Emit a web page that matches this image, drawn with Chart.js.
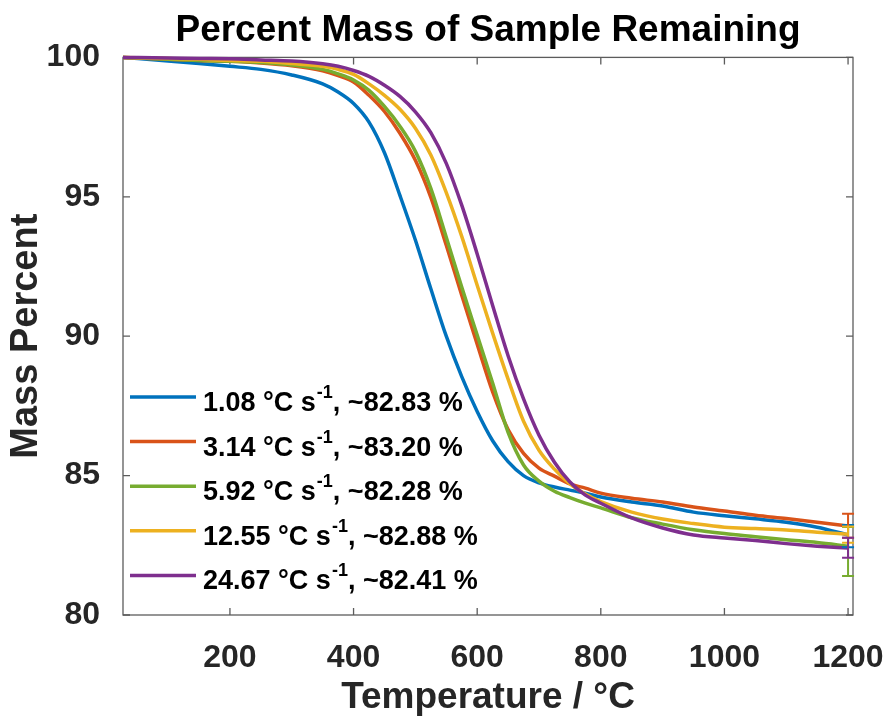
<!DOCTYPE html>
<html>
<head>
<meta charset="utf-8">
<script src="https://cdn.jsdelivr.net/npm/chart.js@4.4.0/dist/chart.umd.min.js"></script>
<style>
  html, body { margin: 0; padding: 0; background: #fff; }
</style>
</head>
<body>
<canvas id="tga" width="889" height="717"></canvas>
<script>
// temperatures (deg C) the curves were read at
const temps = [27, 100, 150, 200, 250, 300, 350, 375, 400, 425, 450, 475, 500, 525, 550, 575, 600,
  625, 650, 675, 700, 725, 750, 775, 800, 850, 900, 950, 1000, 1050, 1100, 1150, 1200];

// mass percent for each heating rate
const rate108 = [100, 99.87, 99.78, 99.68, 99.57, 99.37, 99.05, 98.76, 98.35, 97.68, 96.58, 95.05, 93.45,
  91.70, 90.00, 88.55, 87.30, 86.25, 85.50, 85.00, 84.74, 84.59, 84.48, 84.37, 84.23, 84.05, 83.91,
  83.69, 83.56, 83.45, 83.33, 83.15, 82.87];
const rate314 = [100, 99.93, 99.89, 99.86, 99.80, 99.70, 99.52, 99.35, 99.12, 98.64, 98.06, 97.28, 96.31,
  94.98, 93.26, 91.47, 89.71, 88.00, 86.65, 85.80, 85.27, 84.98, 84.70, 84.55, 84.37, 84.19, 84.05,
  83.87, 83.73, 83.58, 83.46, 83.33, 83.19];
const rate592 = [100, 99.93, 99.89, 99.86, 99.82, 99.73, 99.57, 99.41, 99.19, 98.82, 98.24, 97.53, 96.63,
  95.30, 93.55, 91.76, 90.04, 88.32, 86.55, 85.38, 84.80, 84.44, 84.21, 84.01, 83.84, 83.49, 83.26,
  83.06, 82.92, 82.81, 82.70, 82.60, 82.47];
const rate1255 = [100, 99.96, 99.93, 99.89, 99.86, 99.78, 99.68, 99.57, 99.39, 99.05, 98.64, 98.14, 97.46,
  96.50, 95.15, 93.58, 91.83, 90.11, 88.46, 86.95, 85.91, 85.23, 84.70, 84.34, 84.07, 83.69, 83.44,
  83.28, 83.15, 83.10, 83.05, 82.97, 82.90];
const rate2467 = [100, 99.98, 99.96, 99.95, 99.91, 99.87, 99.77, 99.68, 99.53, 99.32, 99.00, 98.60, 98.05,
  97.30, 96.20, 94.70, 92.95, 91.10, 89.30, 87.75, 86.45, 85.48, 84.77, 84.30, 84.01, 83.48, 83.12,
  82.87, 82.76, 82.67, 82.56, 82.47, 82.40];

// legend text and end-point error bars
const rates = ['1.08', '3.14', '5.92', '12.55', '24.67'];
const finalMass = [82.83, 83.20, 82.28, 82.88, 82.41];
const finalSd = [0.40, 0.43, 0.88, 0.29, 0.36];
const errTemp = 1200;

const xTicks = [200, 400, 600, 800, 1000, 1200];
const yTicks = [80, 85, 90, 95, 100];

const series = [rate108, rate314, rate592, rate1255, rate2467];
const palette = ['#0072BD', '#D95319', '#77AC30', '#EDB120', '#7E2F8E'];
const FONT = '"Liberation Sans", Arial, Helvetica, sans-serif';

Chart.defaults.font.family = FONT;

// box round the plot with inward ticks on all four sides
const axesBox = {
  id: 'axesBox',
  beforeDatasetsDraw(chart) {
    const { ctx, chartArea: a, scales: { x, y } } = chart;
    const tl = 7;
    ctx.save();
    ctx.strokeStyle = '#5c5c5c';
    ctx.lineWidth = 1.3;
    ctx.strokeRect(a.left, a.top, a.right - a.left, a.bottom - a.top);
    ctx.beginPath();
    xTicks.forEach(v => {
      const px = x.getPixelForValue(v);
      ctx.moveTo(px, a.bottom); ctx.lineTo(px, a.bottom - tl);
      ctx.moveTo(px, a.top); ctx.lineTo(px, a.top + tl);
    });
    yTicks.forEach(v => {
      const py = y.getPixelForValue(v);
      ctx.moveTo(a.left, py); ctx.lineTo(a.left + tl, py);
      ctx.moveTo(a.right, py); ctx.lineTo(a.right - tl, py);
    });
    ctx.stroke();
    ctx.restore();
  }
};

const errorBars = {
  id: 'errorBars',
  afterDatasetsDraw(chart) {
    const { ctx, scales: { x, y } } = chart;
    const px = x.getPixelForValue(errTemp);
    const cap = 6;
    ctx.save();
    ctx.lineWidth = 2;
    finalMass.forEach((m, i) => {
      const top = y.getPixelForValue(m + finalSd[i]);
      const bot = y.getPixelForValue(m - finalSd[i]);
      ctx.strokeStyle = palette[i];
      ctx.beginPath();
      ctx.moveTo(px, top); ctx.lineTo(px, bot);
      ctx.moveTo(px - cap, top); ctx.lineTo(px + cap, top);
      ctx.moveTo(px - cap, bot); ctx.lineTo(px + cap, bot);
      ctx.stroke();
    });
    ctx.restore();
  }
};

// legend inside the axes, with the s^-1 superscript
const inlineLegend = {
  id: 'inlineLegend',
  afterDatasetsDraw(chart) {
    const { ctx, chartArea: a } = chart;
    ctx.save();
    ctx.textBaseline = 'alphabetic';
    ctx.textAlign = 'left';
    chart.data.datasets.forEach((ds, i) => {
      const ly = 397 + i * 44.6;
      ctx.strokeStyle = ds.borderColor;
      ctx.lineWidth = 3.5;
      ctx.beginPath();
      ctx.moveTo(a.left + 7, ly);
      ctx.lineTo(a.left + 73, ly);
      ctx.stroke();

      const base = ly + 14;
      let tx = a.left + 80;
      ctx.fillStyle = '#000';
      ctx.font = 'bold 27px ' + FONT;
      const head = rates[i] + ' \u00B0C s';
      ctx.fillText(head, tx, base);
      tx += ctx.measureText(head).width + 1;
      ctx.font = 'bold 18px ' + FONT;
      ctx.fillText('-1', tx, base - 13);
      tx += ctx.measureText('-1').width;
      ctx.font = 'bold 27px ' + FONT;
      ctx.fillText(', ~' + finalMass[i].toFixed(2) + ' %', tx, base);
    });
    ctx.restore();
  }
};

const datasets = series.map((vals, i) => ({
  label: rates[i] + ' \u00B0C s-1, ~' + finalMass[i].toFixed(2) + ' %',
  data: temps.map((t, j) => ({ x: t, y: vals[j] })),
  borderColor: palette[i],
  backgroundColor: palette[i],
  borderWidth: 3.5,
  pointRadius: 0,
  cubicInterpolationMode: 'monotone',
  clip: 6,
  order: series.length - i
}));

new Chart(document.getElementById('tga'), {
  type: 'line',
  data: { datasets },
  options: {
    responsive: false,
    animation: false,
    devicePixelRatio: 1,
    layout: { padding: { left: 0, right: 36, top: 0, bottom: 0 } },
    plugins: {
      legend: { display: false },
      tooltip: { enabled: false },
      title: {
        display: true,
        fullSize: false,
        text: 'Percent Mass of Sample Remaining',
        color: '#000',
        font: { size: 37, weight: 'bold', lineHeight: 1.2 },
        padding: { top: 9, bottom: 4 }
      }
    },
    scales: {
      x: {
        type: 'linear',
        min: 27,
        max: 1208,
        afterBuildTicks: s => { s.ticks = xTicks.map(v => ({ value: v })); },
        afterFit: s => { s.height = 102; s.paddingLeft = 0; s.paddingRight = 0; },
        grid: { display: false },
        border: { display: false },
        ticks: {
          color: '#262626',
          padding: 16,
          maxRotation: 0,
          callback: v => String(v),
          font: { size: 32, weight: 'bold' }
        },
        title: {
          display: true,
          text: 'Temperature / \u00B0C',
          color: '#262626',
          font: { size: 37, weight: 'bold', lineHeight: 1 },
          padding: { top: 0, bottom: 1 }
        }
      },
      y: {
        min: 80,
        max: 100,
        afterBuildTicks: s => { s.ticks = yTicks.map(v => ({ value: v })); },
        afterFit: s => { s.width = 123; },
        grid: { display: false },
        border: { display: false },
        ticks: {
          color: '#262626',
          padding: 15,
          font: { size: 32, weight: 'bold' }
        },
        title: {
          display: true,
          text: 'Mass Percent',
          color: '#262626',
          font: { size: 38, weight: 'bold', lineHeight: 1 },
          padding: { top: 8, bottom: 0 }
        }
      }
    }
  },
  plugins: [axesBox, errorBars, inlineLegend]
});
</script>
</body>
</html>
